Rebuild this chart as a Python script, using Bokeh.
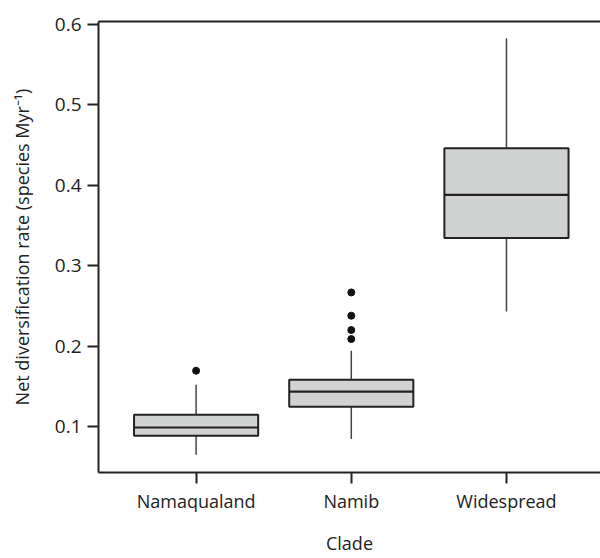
from bokeh.plotting import figure
from bokeh.models import LinearAxis, FixedTicker, Range1d, ColumnDataSource
from bokeh.embed import file_html
from bokeh.resources import INLINE

# ---- data ----
categories = ["Namaqualand", "Namib", "Widespread"]
positions = [1, 2, 3]
lower_whisker = [0.0652, 0.0847, 0.2432]
q1 = [0.0888, 0.1248, 0.3344]
median = [0.0991, 0.1435, 0.3878]
q3 = [0.1149, 0.1584, 0.4457]
upper_whisker = [0.1522, 0.1944, 0.5824]
outlier_group = [1, 2, 2, 2, 2]
outlier_value = [0.1696, 0.2668, 0.2379, 0.2201, 0.2089]
y_ticks = [0.1, 0.2, 0.3, 0.4, 0.5, 0.6]

box_width = 0.8
FONT = "Open Sans"
TXT = "#222222"
LINE = "#222222"

p = figure(width=600, height=558, output_backend="svg", toolbar_location=None,
           x_range=Range1d(0.371, 3.606), y_range=Range1d(0.0432, 0.6032),
           min_border_left=98, min_border_right=0, min_border_top=21, min_border_bottom=86)
p.outline_line_color = None
p.grid.visible = False
p.background_fill_color = "white"
p.border_fill_color = "white"

src = ColumnDataSource(dict(
    x=positions, lw=lower_whisker, q1=q1, med=median, q3=q3, uw=upper_whisker,
    x0=[v - box_width / 2 for v in positions], x1=[v + box_width / 2 for v in positions]))

# whiskers
p.segment(x0="x", y0="q3", x1="x", y1="uw", source=src, line_color="#444444", line_width=1.5)
p.segment(x0="x", y0="q1", x1="x", y1="lw", source=src, line_color="#444444", line_width=1.5)
# boxes
p.vbar(x="x", width=box_width, bottom="q1", top="q3", source=src,
       fill_color="#d1d3d2", line_color=LINE, line_width=2)
# medians
p.segment(x0="x0", y0="med", x1="x1", y1="med", source=src, line_color=LINE, line_width=2.2)
# outliers
p.scatter(x=outlier_group, y=outlier_value, size=7, color="#111111")

# axes styling
xa = p.xaxis[0]
xa.ticker = FixedTicker(ticks=positions)
xa.major_label_overrides = {pos: c for pos, c in zip(positions, categories)}
xa.axis_label = "Clade"
ya = p.yaxis[0]
ya.ticker = FixedTicker(ticks=y_ticks)
ya.axis_label = "Net diversification rate (species Myr\u207b\u00b9)"

for ax in (xa, ya):
    ax.axis_line_color = LINE
    ax.axis_line_width = 2
    ax.major_tick_line_color = LINE
    ax.major_tick_line_width = 2
    ax.major_tick_in = 0
    ax.major_tick_out = 11
    ax.minor_tick_line_color = None
    ax.major_label_text_font = FONT
    ax.major_label_text_font_size = "18px"
    ax.major_label_text_color = TXT
    ax.axis_label_text_font = FONT
    ax.axis_label_text_font_size = "18px"
    ax.axis_label_text_font_style = "normal"
    ax.axis_label_text_color = TXT
ya.major_label_text_font_size = "19px"
xa.major_label_standoff = 5
xa.axis_label_standoff = 15
ya.major_label_standoff = 6
ya.axis_label_standoff = 18

top = LinearAxis(ticker=FixedTicker(ticks=[]), major_label_text_font_size="0px",
                 axis_line_color=LINE, axis_line_width=2, major_tick_line_color=None,
                 minor_tick_line_color=None)
p.add_layout(top, "above")

open("out.html", "w").write(file_html(p, INLINE))
